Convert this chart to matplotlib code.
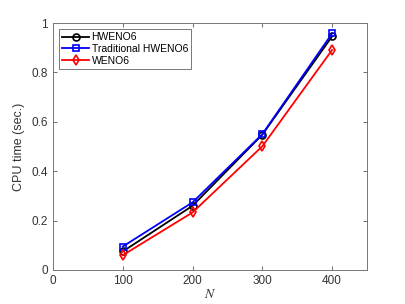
import matplotlib
matplotlib.use("Agg")
import matplotlib.pyplot as plt

N = [100, 200, 300, 400]
hweno6 = [0.075, 0.26, 0.548, 0.946]
trad_hweno6 = [0.095, 0.274, 0.55, 0.958]
weno6 = [0.06, 0.233, 0.501, 0.891]
labels = ["HWENO6", "Traditional HWENO6", "WENO6"]

plt.rcParams['font.family'] = ['Liberation Sans', 'DejaVu Sans']
plt.rcParams['mathtext.fontset'] = 'stix'
fig = plt.figure(figsize=(4.05, 3.04), dpi=100)
ax = fig.add_axes([53/405, 1-270/304, (367-53)/405, (270-23)/304])

ax.plot(N, hweno6, '-o', color='black', lw=1.3, ms=5, mfc='none', mew=1.2, label=labels[0])
ax.plot(N, trad_hweno6, '-s', color='blue', lw=1.3, ms=5, mfc='none', mew=1.2, label=labels[1])
ax.plot(N, weno6, '-d', color='red', lw=1.3, ms=5, mfc='none', mew=1.2, label=labels[2])

ax.set_xlim(0, 450)
ax.set_ylim(0, 1)
ax.set_xticks([0, 100, 200, 300, 400])
ax.set_yticks([0, 0.2, 0.4, 0.6, 0.8, 1])
ax.set_yticklabels(['0', '0.2', '0.4', '0.6', '0.8', '1'])
ax.tick_params(direction='in', length=3, width=0.6, colors='#555555', labelcolor='#333333', labelsize=8.5,
               top=True, right=True)
for s in ax.spines.values():
    s.set_color('#777777')
    s.set_linewidth(0.7)
ax.set_xlabel('$N$', fontsize=10, color='#333333', labelpad=0)
ax.set_ylabel('CPU time (sec.)', fontsize=9, color='#333333', labelpad=5)
leg = ax.legend(loc='upper left', fontsize=7.5, frameon=True, fancybox=False, edgecolor='#555555',
                borderpad=0.3, labelspacing=0.15, handlelength=2.6, handletextpad=0.2,
                borderaxespad=0.6)
leg.get_frame().set_linewidth(0.7)
fig.savefig('out.png', dpi=100)
